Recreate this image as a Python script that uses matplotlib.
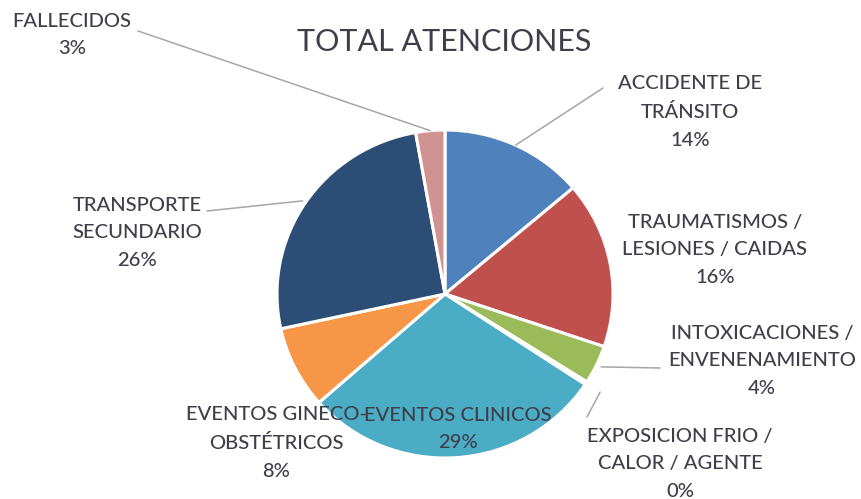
import matplotlib
matplotlib.use("Agg")
import matplotlib.pyplot as plt
import numpy as np

plt.rcParams['font.family'] = ['Lato', 'DejaVu Sans']

categories = ["ACCIDENTE DE\nTRÁNSITO", "TRAUMATISMOS /\nLESIONES / CAIDAS",
              "INTOXICACIONES /\nENVENENAMIENTO", "EXPOSICION FRIO /\nCALOR / AGENTE",
              "EVENTOS CLINICOS", "EVENTOS GINECO-\nOBSTÉTRICOS",
              "TRANSPORTE\nSECUNDARIO", "FALLECIDOS"]
values = [13.8, 16.4, 3.8, 0.3, 29.2, 8.1, 25.6, 2.8]
colors = ["#4F81BD", "#C0504D", "#9BBB59", "#8064A2", "#4BACC6", "#F79646",
          "#2C4D75", "#D19392"]

W, H = 862, 499
fig = plt.figure(figsize=(W / 100, H / 100), dpi=100)
cx, cy, rx, ry = 445, 294, 168, 164
ax = fig.add_axes([(cx - rx) / W, (H - cy - ry) / H, 2 * rx / W, 2 * ry / H])

wedges, _ = ax.pie(values, colors=colors, startangle=90, counterclock=False,
                   radius=1.0,
                   wedgeprops=dict(edgecolor="white", linewidth=2.2))
ax.set_aspect('auto')
ax.set_xlim(-1, 1)
ax.set_ylim(-1, 1)

txt_color = "#3F3F4A"
fs = 14.5

# label block centers in image pixels, leader line start, radius factor
label_pos = [
    (690, 112, (603, 88), 1.0),
    (715, 250, None, None),
    (762, 361, (660, 368), 1.03),
    (680, 464, (587, 417), 1.1),
    (458, 429, None, None),
    (276, 443, None, None),
    (137, 233, (207, 211), 1.02),
    (72, 35, (138, 31), 1.0),
]

for w, cat, v, (lx, ly, lead, rr) in zip(wedges, categories, values, label_pos):
    txt = f"{cat}\n{round(v):d}%"
    fig.text(lx / W, 1 - ly / H, txt, ha="center", va="center", color=txt_color,
             fontsize=fs, linespacing=1.75, multialignment="center",
             fontweight="medium")
    if lead is not None:
        ang = np.deg2rad((w.theta1 + w.theta2) / 2)
        ax.annotate("", xy=(rr * np.cos(ang), rr * np.sin(ang)), xycoords="data",
                    xytext=(lead[0], H - lead[1]), textcoords="figure pixels",
                    arrowprops=dict(arrowstyle="-", color="#A6A6A6", lw=1.1,
                                    shrinkA=0, shrinkB=0))

fig.text(444 / W, 1 - 42 / H, "TOTAL ATENCIONES", ha="center", va="center",
         color=txt_color, fontsize=22)

fig.savefig("out.png", dpi=100, facecolor="white")
